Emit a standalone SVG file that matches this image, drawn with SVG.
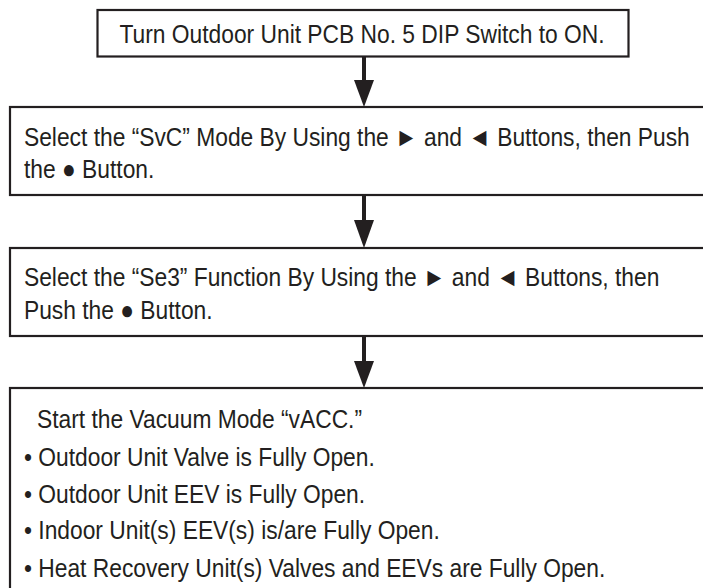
<svg xmlns="http://www.w3.org/2000/svg" width="703" height="588" viewBox="0 0 703 588">
<defs>
<style>
.box{fill:#ffffff;stroke:#231f20;stroke-width:2.2}
.t{font-family:"Liberation Sans",Arial,sans-serif;font-size:26px;fill:#231f20}
.shaft{stroke:#231f20;stroke-width:4;fill:none}
.head{fill:#231f20;stroke:none}
</style>
</defs>
<rect width="703" height="588" fill="#ffffff"/>
<g id="step1">
<rect class="box" x="97.5" y="10" width="531" height="46.5"/>
<text class="t" transform="matrix(0.877 0 0 1 119.5 42.5)">Turn Outdoor Unit PCB No. 5 DIP Switch to ON.</text>
</g>
<g id="step2">
<rect class="box" x="10" y="107" width="720" height="88"/>
<text class="t" transform="matrix(0.877 0 0 1 24 145.5)">Select the “SvC” Mode By Using the ► and ◄ Buttons, then Push</text>
<text class="t" transform="matrix(0.877 0 0 1 24 178)">the ● Button.</text>
</g>
<g id="step3">
<rect class="box" x="10" y="248" width="720" height="88"/>
<text class="t" transform="matrix(0.877 0 0 1 24 286)">Select the “Se3” Function By Using the ► and ◄ Buttons, then</text>
<text class="t" transform="matrix(0.877 0 0 1 24 318.5)">Push the ● Button.</text>
</g>
<g id="step4">
<rect class="box" x="10" y="388" width="720" height="220"/>
<text class="t" transform="matrix(0.877 0 0 1 37 428)">Start the Vacuum Mode “vACC.”</text>
<text class="t" transform="matrix(0.877 0 0 1 24 466)">• Outdoor Unit Valve is Fully Open.</text>
<text class="t" transform="matrix(0.877 0 0 1 24 503)">• Outdoor Unit EEV is Fully Open.</text>
<text class="t" transform="matrix(0.877 0 0 1 24 539)">• Indoor Unit(s) EEV(s) is/are Fully Open.</text>
<text class="t" transform="matrix(0.877 0 0 1 24 577)">• Heat Recovery Unit(s) Valves and EEVs are Fully Open.</text>
</g>
<g id="connectors">
<line class="shaft" x1="364" y1="56.5" x2="364" y2="82"/>
<polygon class="head" points="354,80 374,80 364,107"/>
<line class="shaft" x1="364" y1="195" x2="364" y2="222"/>
<polygon class="head" points="354,220 374,220 364,248"/>
<line class="shaft" x1="364" y1="336" x2="364" y2="363"/>
<polygon class="head" points="354,361 374,361 364,388"/>
</g>
</svg>
